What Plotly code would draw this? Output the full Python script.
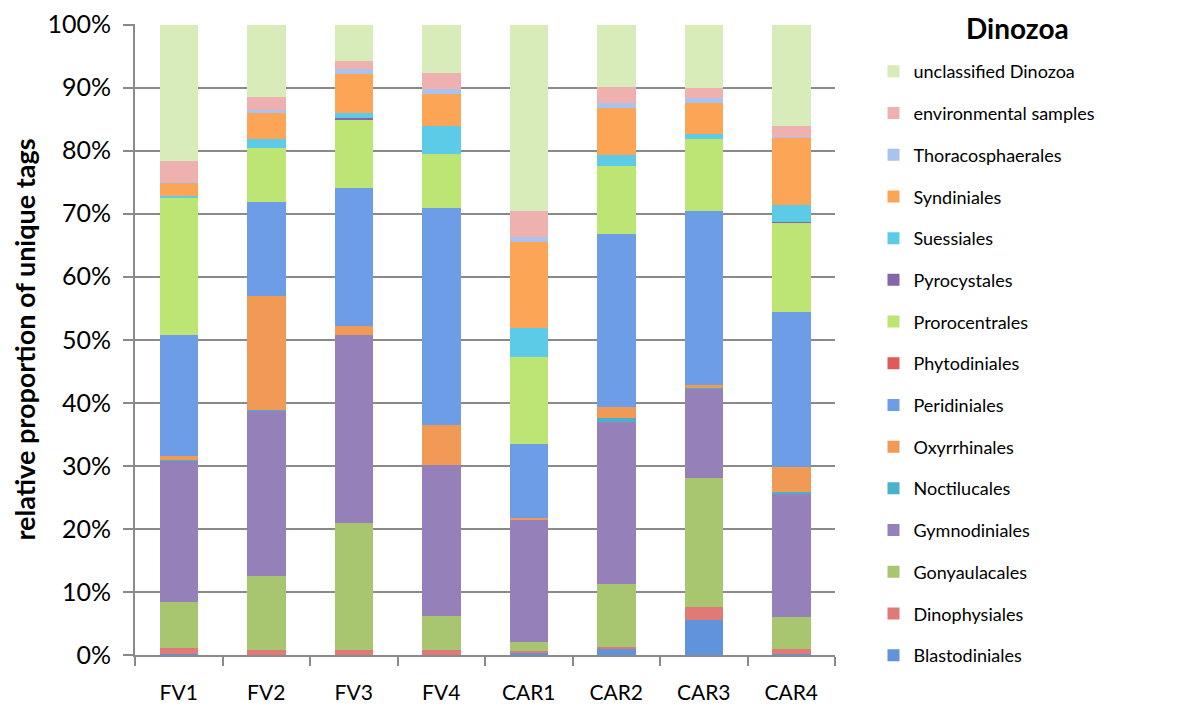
import plotly.graph_objects as go

samples = ["FV1", "FV2", "FV3", "FV4", "CAR1", "CAR2", "CAR3", "CAR4"]
y_tick_values = [0, 10, 20, 30, 40, 50, 60, 70, 80, 90, 100]
y_tick_labels = ["0%", "10%", "20%", "30%", "40%", "50%", "60%", "70%", "80%", "90%", "100%"]

blastodiniales     = [0.1, 0.0, 0.0, 0.0, 0.4, 0.9, 5.5, 0.1]
dinophysiales      = [0.95, 0.85, 0.85, 0.8, 0.3, 0.4, 2.15, 0.9]
gonyaulacales      = [7.4, 11.75, 20.15, 5.4, 1.3, 9.95, 20.35, 5.1]
gymnodiniales      = [22.35, 26.1, 29.7, 24.0, 19.55, 25.75, 14.2, 19.5]
noctilucales       = [0.1, 0.1, 0.0, 0.0, 0.0, 0.6, 0.3, 0.3]
oxyrrhinales       = [0.6, 18.2, 1.5, 6.3, 0.2, 1.8, 0.3, 3.95]
peridiniales       = [19.2, 14.8, 21.9, 34.4, 11.75, 27.3, 27.6, 24.6]
phytodiniales      = [0.0, 0.0, 0.0, 0.0, 0.0, 0.0, 0.0, 0.0]
prorocentrales     = [21.8, 8.6, 10.8, 8.5, 13.8, 10.8, 11.4, 14.1]
pyrocystales       = [0.0, 0.0, 0.2, 0.0, 0.0, 0.0, 0.0, 0.2]
suessiales         = [0.3, 1.5, 0.9, 4.5, 4.5, 1.8, 0.9, 2.65]
syndiniales        = [2.1, 4.1, 6.2, 5.0, 13.7, 7.5, 4.9, 10.6]
thoracosphaerales  = [0.1, 0.4, 0.8, 0.8, 0.8, 0.7, 0.7, 0.2]
environmental      = [3.4, 2.1, 1.2, 2.6, 4.1, 2.6, 1.6, 1.7]
unclassified       = [21.6, 11.5, 5.8, 7.7, 29.6, 9.9, 10.1, 16.1]

series = [
    ("Blastodiniales", blastodiniales, "#5f93dc"),
    ("Dinophysiales", dinophysiales, "#df7a77"),
    ("Gonyaulacales", gonyaulacales, "#a8c66f"),
    ("Gymnodiniales", gymnodiniales, "#9580ba"),
    ("Noctilucales", noctilucales, "#4bb0cc"),
    ("Oxyrrhinales", oxyrrhinales, "#f09a55"),
    ("Peridiniales", peridiniales, "#6d9de6"),
    ("Phytodiniales", phytodiniales, "#e05a58"),
    ("Prorocentrales", prorocentrales, "#bde573"),
    ("Pyrocystales", pyrocystales, "#8467ab"),
    ("Suessiales", suessiales, "#5ccbe8"),
    ("Syndiniales", syndiniales, "#fda556"),
    ("Thoracosphaerales", thoracosphaerales, "#aac2ee"),
    ("environmental samples", environmental, "#efb0b0"),
    ("unclassified Dinozoa", unclassified, "#d7ecb8"),
]

fig = go.Figure()
n = len(series)
for i, (name, vals, col) in enumerate(series):
    fig.add_trace(go.Bar(
        x=samples, y=vals, name=name, legendgroup=name, legendrank=n - i,
        width=0.44,
        marker=dict(color=col, line=dict(width=0)),
    ))

# page has an 8px body margin, so the figure is sized to fit 1200x725 exactly
W, H = 1192, 717
top_px, bot_px = 16, 647
grid = "#8a8a8a"
fig.update_layout(
    barmode="stack",
    width=W, height=H,
    margin=dict(l=127, r=365, t=0, b=0, autoexpand=False),
    paper_bgcolor="white", plot_bgcolor="white",
    font=dict(family="Lato, Carlito, sans-serif", color="black"),
    legend=dict(
        x=1.055, xanchor="left", y=0.937, yanchor="top",
        traceorder="grouped", tracegroupgap=15.3,
        font=dict(size=18, color="black"),
        itemwidth=30,
    ),
    showlegend=True,
    annotations=[dict(
        text="<b>Dinozoa</b>", xref="paper", yref="paper",
        x=1.2614, y=0.972, xanchor="center", yanchor="middle",
        showarrow=False, font=dict(size=28, color="black"),
    )],
)
fig.update_yaxes(
    domain=[(H - bot_px) / H, (H - top_px) / H],
    range=[0, 100.08], tickmode="array",
    tickvals=y_tick_values, ticktext=y_tick_labels,
    showgrid=True, gridcolor=grid, gridwidth=2,
    showline=True, linecolor=grid, linewidth=2,
    ticks="outside", ticklen=10, tickcolor=grid, tickwidth=2,
    tickfont=dict(size=25), ticklabelstandoff=7,
    title=dict(text="<b>relative proportion of unique tags</b>", font=dict(size=27), standoff=10),
    zeroline=False, automargin=False,
)
fig.update_xaxes(
    showline=True, linecolor=grid, linewidth=2,
    ticks="outside", tickson="boundaries", ticklen=9, tickcolor=grid, tickwidth=2,
    tickfont=dict(size=21), ticklabelstandoff=18, automargin=False,
)
fig.write_html("out.html")
